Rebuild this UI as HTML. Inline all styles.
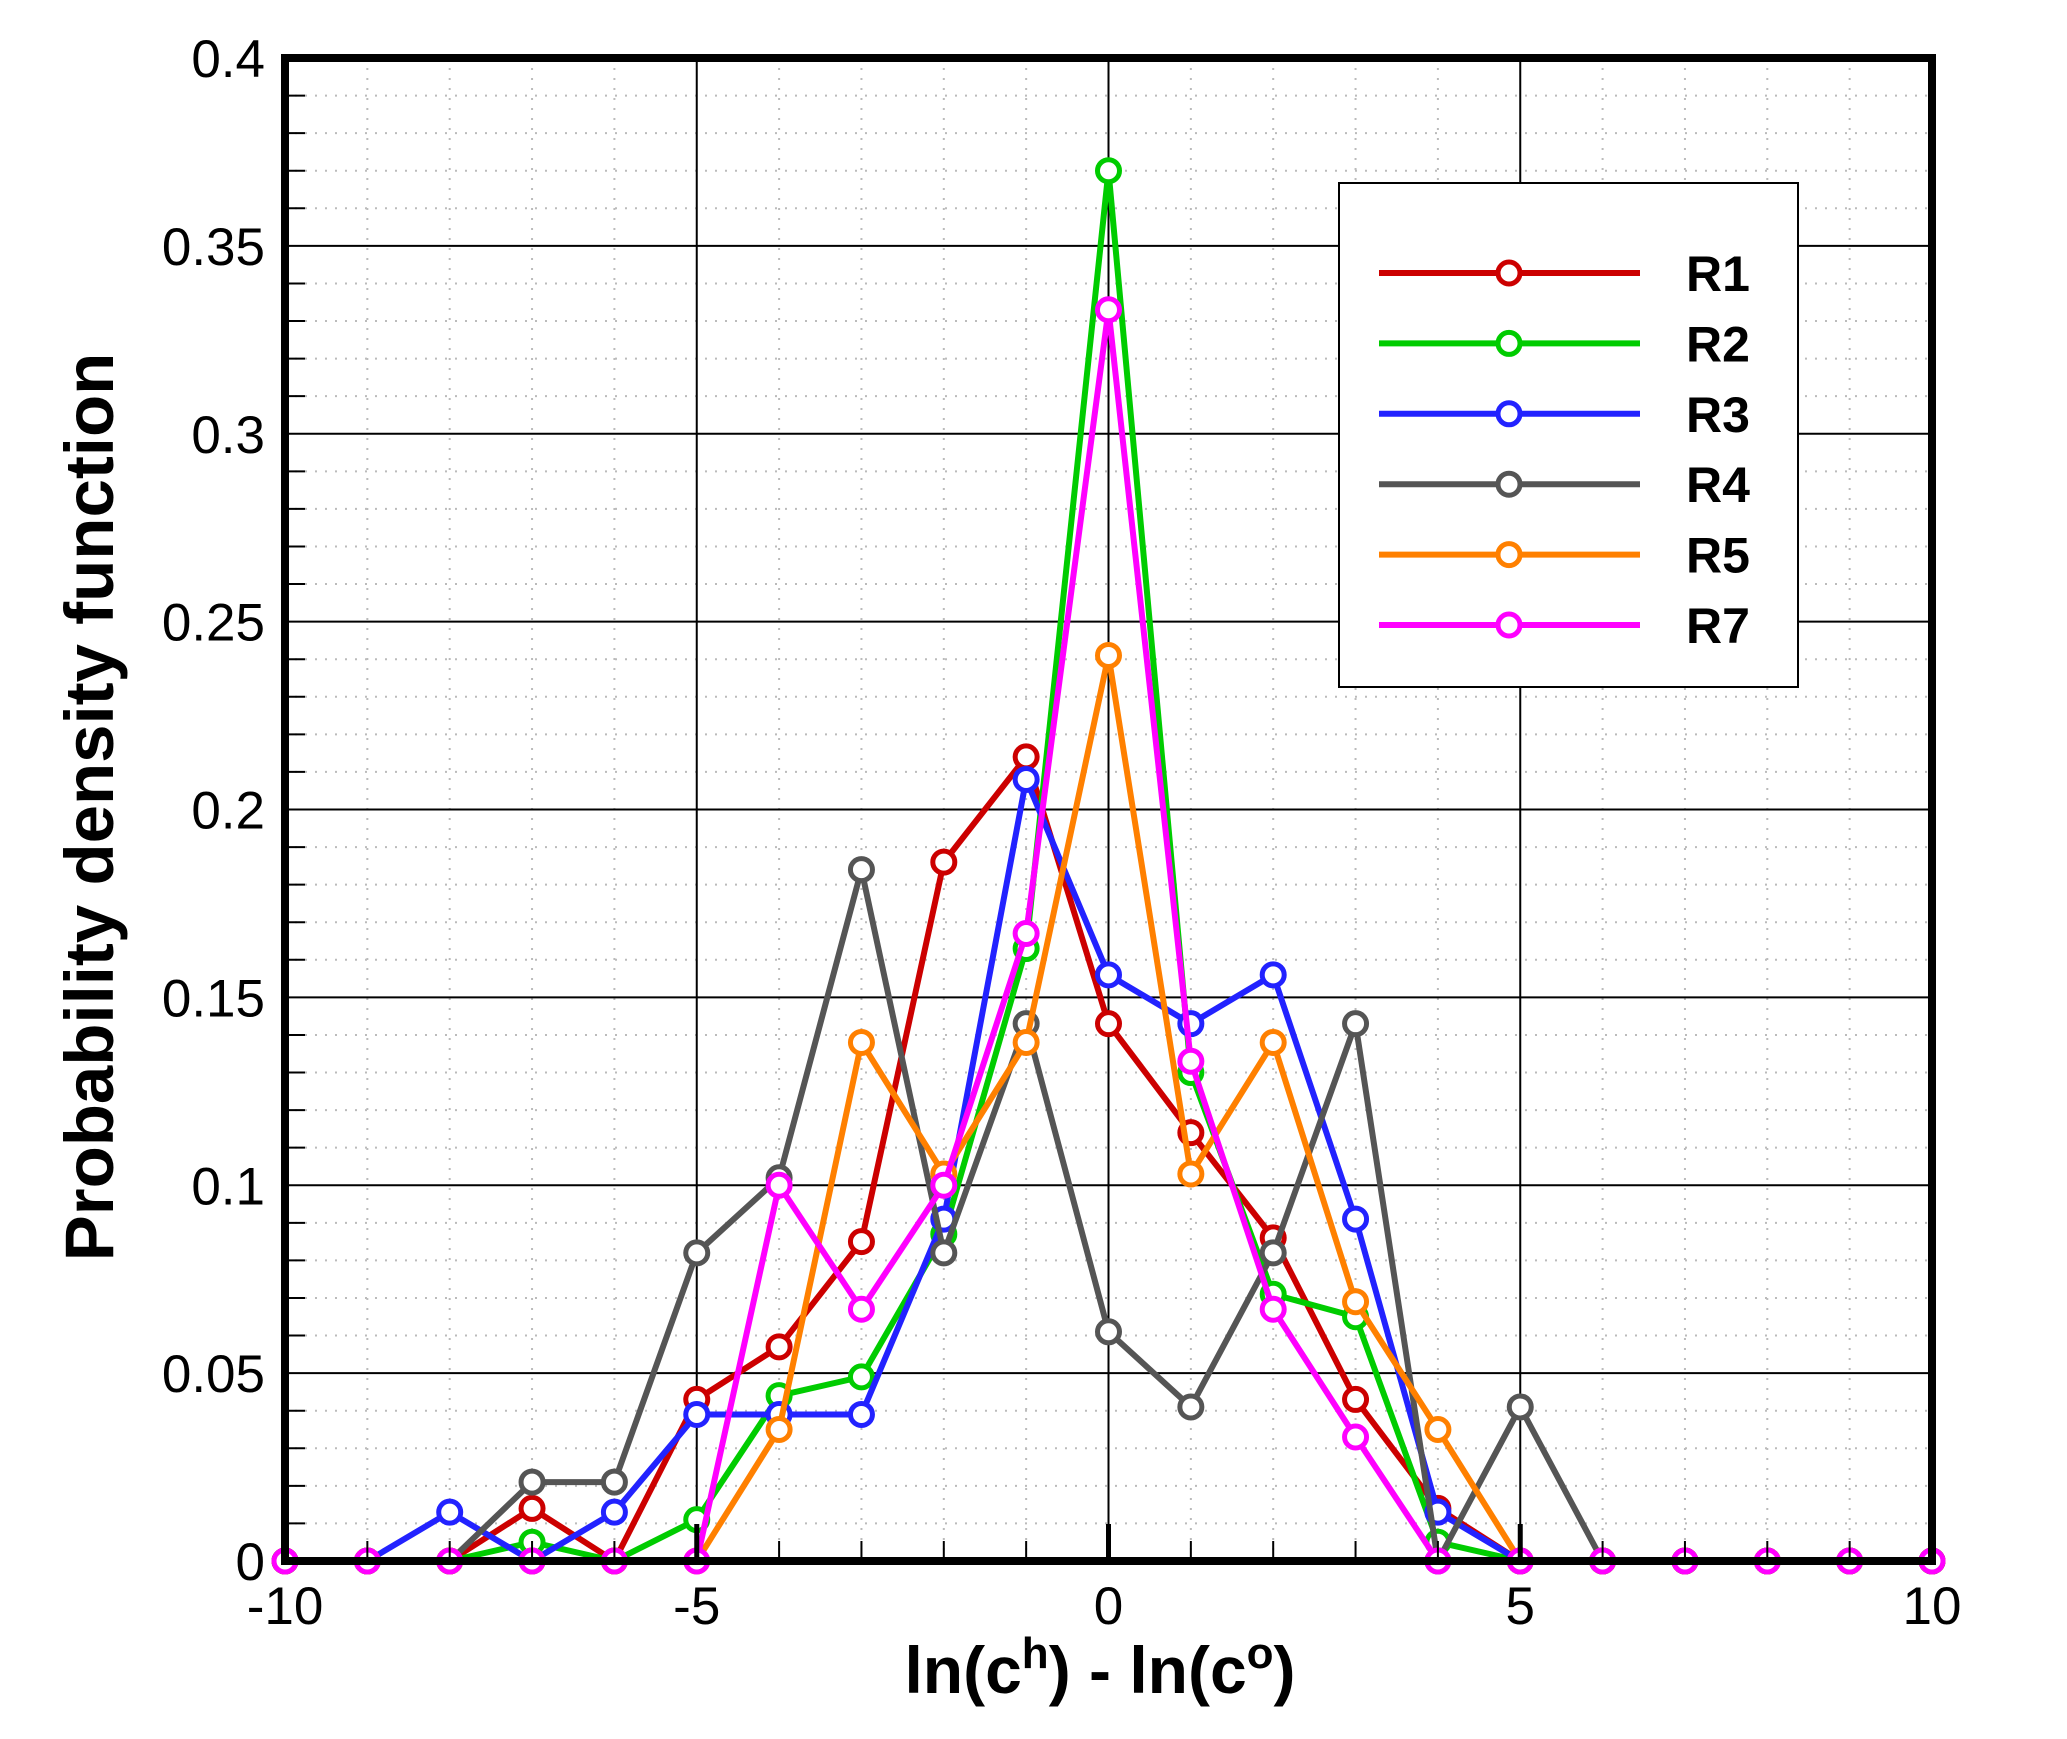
<!DOCTYPE html>
<html><head><meta charset="utf-8"><style>
html,body{margin:0;padding:0;background:#fff;}
svg{display:block;font-family:"Liberation Sans",Arial,sans-serif;}
</style></head><body>
<svg id="chart" width="2067" height="1739" viewBox="0 0 2067 1739" xmlns="http://www.w3.org/2000/svg">
<g id="grid"></g>
<g id="series"></g>
<g id="axes"></g>
<g id="legend"></g>
<text x="1100" y="1693" font-size="66" font-weight="bold" text-anchor="middle">ln(c<tspan dy="-25" font-size="44">h</tspan><tspan dy="25">) - ln(c</tspan><tspan dy="-25" font-size="44">o</tspan><tspan dy="25">)</tspan></text>
<text transform="translate(113,807) rotate(-90)" font-size="69" font-weight="bold" text-anchor="middle">Probability density function</text>
</svg>
<script>
const xCats = [-10,-9,-8,-7,-6,-5,-4,-3,-2,-1,0,1,2,3,4,5,6,7,8,9,10];
const seriesNames = ["R1","R2","R3","R4","R5","R7"];
const seriesColors = ["#cc0000","#00cc00","#2222ff","#555555","#ff8000","#ff00ff"];
const r1 = [0,0,0,0.014,0,0.043,0.057,0.085,0.186,0.214,0.143,0.114,0.086,0.043,0.014,0,0,0,0,0,0];
const r2 = [0,0,0,0.005,0,0.011,0.044,0.049,0.087,0.163,0.370,0.130,0.071,0.065,0.005,0,0,0,0,0,0];
const r3 = [0,0,0.013,0,0.013,0.039,0.039,0.039,0.091,0.208,0.156,0.143,0.156,0.091,0.013,0,0,0,0,0,0];
const r4 = [0,0,0,0.021,0.021,0.082,0.102,0.184,0.082,0.143,0.061,0.041,0.082,0.143,0,0.041,0,0,0,0,0];
const r5 = [0,0,0,0,0,0,0.035,0.138,0.103,0.138,0.241,0.103,0.138,0.069,0.035,0,0,0,0,0,0];
const r7 = [0,0,0,0,0,0,0.100,0.067,0.100,0.167,0.333,0.133,0.067,0.033,0,0,0,0,0,0,0];
const yTicks = [0,0.05,0.1,0.15,0.2,0.25,0.3,0.35,0.4];
const yTickLabels = ["0","0.05","0.1","0.15","0.2","0.25","0.3","0.35","0.4"];
const xTicks = [-10,-5,0,5,10];
const xTickLabels = ["-10","-5","0","5","10"];
const allSeries = [r1,r2,r3,r4,r5,r7];

const L=285,R=1932,T=58,B=1561;
const xs = v => L + (v+10)/20*(R-L);
const ys = v => B - v/0.4*(B-T);
const NS="http://www.w3.org/2000/svg";
function mk(tag, parent, attrs){const e=document.createElementNS(NS,tag);for(const k in attrs)e.setAttribute(k,attrs[k]);parent.appendChild(e);return e;}
const grid=document.getElementById('grid'), ser=document.getElementById('series'), axes=document.getElementById('axes'), leg=document.getElementById('legend');

for(let v=-9;v<10;v++){ if(v%5===0) continue;
  const g=mk('line',grid,{x1:xs(v),x2:xs(v),y1:T,y2:B,stroke:'#bbb','stroke-width':2,'stroke-dasharray':'2 8'});
  
  
}
for(let i=1;i<40;i++){ if(i%5===0) continue; const v=i*0.01;
  const g=mk('line',grid,{x1:L,x2:R,y1:ys(v),y2:ys(v),stroke:'#bbb','stroke-width':2,'stroke-dasharray':'2 8'});
  
  
  const t=mk('line',axes,{x1:L,x2:L+20,y1:ys(v),y2:ys(v),stroke:'#000','stroke-width':2});
  
  
}
xTicks.forEach((v,i)=>{
  const g=mk('line',grid,{x1:xs(v),x2:xs(v),y1:T,y2:B,stroke:'#000','stroke-width':2});
  
  
  const t=mk('line',axes,{x1:xs(v),x2:xs(v),y1:B,y2:B-37,stroke:'#000','stroke-width':5});
  
  
  const tx=mk('text',axes,{x:xs(v),y:1624,'font-size':53,'text-anchor':'middle'});
  tx.textContent=xTickLabels[i];
  
  
});
for(let v=-9;v<10;v++){ if(v%5===0) continue;
  const t=mk('line',axes,{x1:xs(v),x2:xs(v),y1:B,y2:B-20,stroke:'#000','stroke-width':2});
  
  
}
yTicks.forEach((v,i)=>{
  const g=mk('line',grid,{x1:L,x2:R,y1:ys(v),y2:ys(v),stroke:'#000','stroke-width':2});
  
  
  const tx=mk('text',axes,{x:265,y:ys(v)+19,'font-size':53,'text-anchor':'end'});
  tx.textContent=yTickLabels[i];
  
  
});

allSeries.forEach((data,si)=>{
  const g=mk('g',ser,{});
  
  
  const pts=data.map((v,i)=>xs(xCats[i])+','+ys(v)).join(' ');
  const pl=mk('polyline',g,{points:pts,fill:'none',stroke:seriesColors[si],'stroke-width':6,'stroke-linejoin':'round'});
  
  
  data.forEach((v,i)=>{
    const c=mk('circle',g,{cx:xs(xCats[i]),cy:ys(v),r:11,fill:'#fff',stroke:seriesColors[si],'stroke-width':5});
    
    
  });
});

const frame=mk('rect',axes,{x:L,y:T,width:R-L,height:B-T,fill:'none',stroke:'#000','stroke-width':8});



const box=mk('rect',leg,{x:1339,y:183,width:459,height:504,fill:'#fff',stroke:'#000','stroke-width':2});


seriesNames.forEach((n,i)=>{
  const y=273+i*70.4;
  const g=mk('g',leg,{});
  
  
  mk('line',g,{x1:1379,x2:1640,y1:y,y2:y,stroke:seriesColors[i],'stroke-width':6});
  mk('circle',g,{cx:1509,cy:y,r:11,fill:'#fff',stroke:seriesColors[i],'stroke-width':5});
  const t=mk('text',g,{x:1686,y:y+18,'font-size':50,'font-weight':'bold'});
  t.textContent=n;
});
</script>
</body></html>
